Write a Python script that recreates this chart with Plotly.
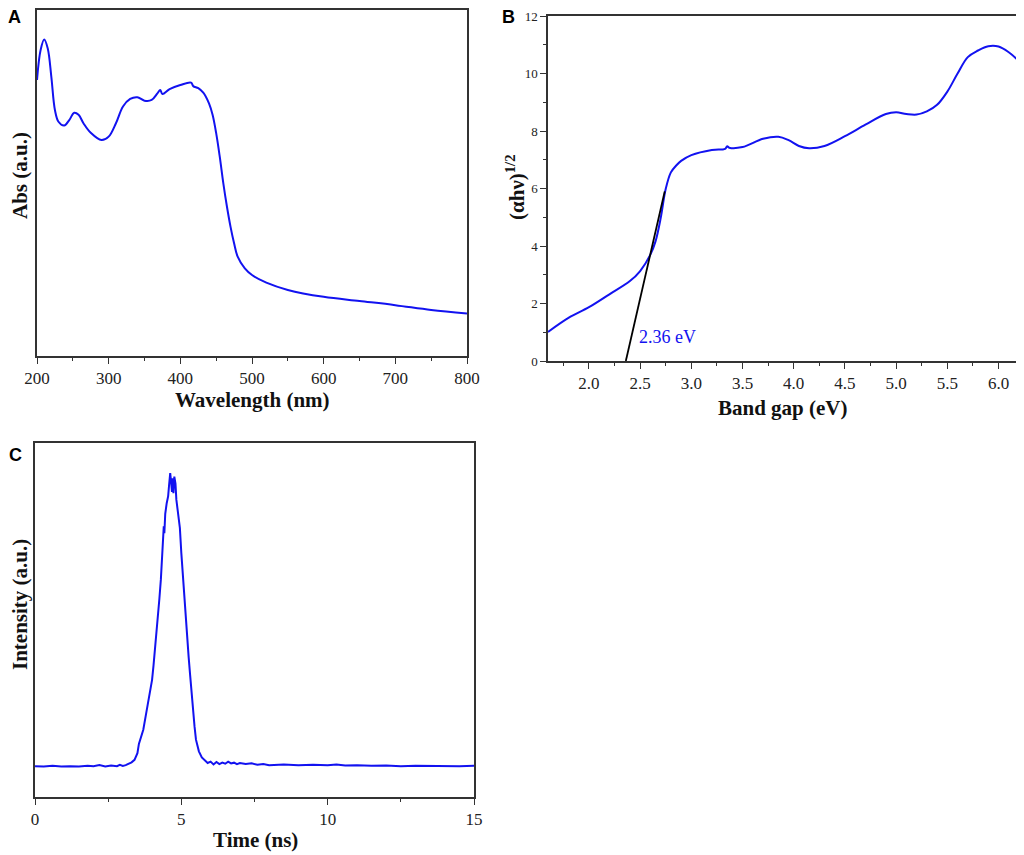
import plotly.graph_objects as go

# panel A: UV-vis absorbance
wl = [200, 205, 210, 215, 220, 225, 230, 238, 245, 252, 258, 265, 275, 290, 300,
      310, 320, 330, 340, 350, 360, 368, 372, 375, 385, 400, 415, 418, 425, 432,
      440, 445, 450, 455, 460, 465, 470, 475, 480, 490, 500, 520, 550, 600, 650,
      700, 750, 800]
absorb = [0.798, 0.884, 0.915, 0.889, 0.807, 0.711, 0.677, 0.666, 0.682, 0.703,
          0.697, 0.672, 0.645, 0.624, 0.634, 0.672, 0.721, 0.743, 0.748, 0.738,
          0.740, 0.759, 0.769, 0.757, 0.771, 0.783, 0.790, 0.780, 0.774, 0.761,
          0.730, 0.697, 0.644, 0.576, 0.499, 0.432, 0.374, 0.326, 0.287, 0.253,
          0.234, 0.212, 0.191, 0.171, 0.159, 0.147, 0.133, 0.123]

# panel B: Tauc plot
ev = [1.6, 1.8, 2.0, 2.2, 2.4, 2.5, 2.6, 2.65, 2.7, 2.75, 2.8, 2.85, 2.9, 3.0,
      3.2, 3.33, 3.35, 3.37, 3.5, 3.7, 3.85, 3.95, 4.05, 4.15, 4.3, 4.5, 4.7,
      4.9, 5.0, 5.1, 5.2, 5.3, 5.4, 5.5, 5.6, 5.7, 5.8, 5.9, 6.0, 6.1, 6.2]
tauc = [1.01, 1.50, 1.87, 2.32, 2.78, 3.13, 3.70, 4.16, 4.96, 5.99, 6.56, 6.79,
        6.96, 7.16, 7.34, 7.38, 7.47, 7.42, 7.44, 7.73, 7.80, 7.68, 7.48, 7.40,
        7.48, 7.82, 8.22, 8.59, 8.65, 8.59, 8.57, 8.68, 8.91, 9.37, 10.0, 10.57,
        10.80, 10.95, 10.94, 10.74, 10.43]
fit_x = [2.36, 2.74]
fit_y = [0, 5.9]

# panel C: pulse profile
t_ns = [0.0, 0.3, 0.6, 0.9, 1.2, 1.5, 1.8, 2.0, 2.2, 2.4, 2.6, 2.8, 2.9, 3.0,
        3.1, 3.2, 3.3, 3.4, 3.5, 3.55, 3.6, 3.65, 3.7, 3.8, 3.85, 3.9, 3.95,
        4.0, 4.05, 4.1, 4.15, 4.2, 4.25, 4.3, 4.35, 4.38, 4.4, 4.42, 4.45, 4.5,
        4.55, 4.58, 4.62, 4.65, 4.68, 4.7, 4.73, 4.76, 4.8, 4.83, 4.86, 4.9,
        4.95, 5.0, 5.05, 5.1, 5.15, 5.2, 5.25, 5.3, 5.35, 5.4, 5.45, 5.5, 5.55,
        5.6, 5.7, 5.8, 5.9, 6.0, 6.1, 6.2, 6.3, 6.4, 6.5, 6.6, 6.7, 6.8, 6.9,
        7.0, 7.2, 7.4, 7.6, 7.8, 8.0, 8.5, 9.0, 9.5, 10.0, 10.3, 10.6, 11.0,
        11.5, 12.0, 12.5, 13.0, 13.5, 14.0, 14.5, 15.0]
inten = [0.087, 0.086, 0.088, 0.086, 0.087, 0.086, 0.088, 0.087, 0.090, 0.086,
         0.089, 0.087, 0.091, 0.088, 0.090, 0.094, 0.098, 0.105, 0.124, 0.150,
         0.162, 0.178, 0.190, 0.237, 0.262, 0.284, 0.300, 0.331, 0.372, 0.416,
         0.455, 0.500, 0.560, 0.614, 0.680, 0.740, 0.765, 0.745, 0.800, 0.830,
         0.850, 0.880, 0.915, 0.890, 0.862, 0.900, 0.858, 0.905, 0.885, 0.840,
         0.822, 0.800, 0.760, 0.689, 0.625, 0.557, 0.505, 0.454, 0.395, 0.345,
         0.290, 0.250, 0.200, 0.162, 0.140, 0.129, 0.112, 0.105, 0.096, 0.100,
         0.092, 0.099, 0.093, 0.097, 0.094, 0.100, 0.095, 0.097, 0.093, 0.096,
         0.093, 0.095, 0.091, 0.093, 0.090, 0.092, 0.090, 0.091, 0.090, 0.092,
         0.089, 0.090, 0.088, 0.089, 0.087, 0.088, 0.087, 0.088, 0.087, 0.088]

# page body has an 8px margin, so the figure starts 8px in from the top left
OFF = 8
W, H = 1024 - OFF, 855 - OFF
BLUE = "#1212f0"
SERIF = "Liberation Serif"
AXCOL = "#333333"


def px(x):
    return min(1.0, (x - OFF) / W)


def py(y):
    return max(0.0, 1 - (y - OFF) / H)


fig = go.Figure()
fig.add_trace(go.Scatter(x=wl, y=absorb, mode="lines", line=dict(color=BLUE, width=2),
                         line_shape="spline", xaxis="x", yaxis="y"))
fig.add_trace(go.Scatter(x=ev, y=tauc, mode="lines", line=dict(color=BLUE, width=2),
                         line_shape="spline", xaxis="x2", yaxis="y2"))
fig.add_trace(go.Scatter(x=fit_x, y=fit_y, mode="lines", line=dict(color="black", width=1.8),
                         xaxis="x2", yaxis="y2"))
fig.add_trace(go.Scatter(x=t_ns, y=inten, mode="lines", line=dict(color=BLUE, width=2),
                         xaxis="x3", yaxis="y3"))

axis_base = dict(showline=True, mirror=True, linecolor=AXCOL, linewidth=1.5,
                 showgrid=False, zeroline=False, automargin=False,
                 ticklabeloverflow="allow",
                 tickfont=dict(family=SERIF, size=17, color="#222"))

fig.update_layout(
    width=W, height=H, margin=dict(l=0, r=0, t=0, b=0, pad=0),
    paper_bgcolor="white", plot_bgcolor="white", showlegend=False,
    xaxis=dict(axis_base, domain=[px(37), px(467)], anchor="y", range=[200, 800],
               ticks="outside", ticklen=6, tickcolor=AXCOL, dtick=100,
               minor=dict(ticks="outside", ticklen=3, dtick=50, tickcolor=AXCOL)),
    yaxis=dict(axis_base, domain=[py(356), py(10)], anchor="x", range=[0, 1],
               showticklabels=False, ticks=""),
    xaxis2=dict(axis_base, domain=[px(548), px(1019)], anchor="y2", range=[1.6, 6.2],
                ticks="outside", ticklen=6, tickcolor=AXCOL, tick0=2, dtick=0.5,
                tickformat=".1f",
                minor=dict(ticks="outside", ticklen=3, tick0=1.75, dtick=0.5, tickcolor=AXCOL)),
    yaxis2=dict(axis_base, domain=[py(361), py(16)], anchor="x2", range=[0, 12],
                ticks="outside", ticklen=6, tickcolor=AXCOL, dtick=2,
                tickfont=dict(family=SERIF, size=13, color="#222"),
                minor=dict(ticks="outside", ticklen=3, dtick=1, tickcolor=AXCOL)),
    xaxis3=dict(axis_base, domain=[px(35), px(474)], anchor="y3", range=[0, 15],
                ticks="outside", ticklen=6, tickcolor=AXCOL, dtick=5,
                minor=dict(ticks="outside", ticklen=3, dtick=2.5, tickcolor=AXCOL)),
    yaxis3=dict(axis_base, domain=[py(797), py(443)], anchor="x3", range=[0, 1],
                showticklabels=False, ticks=""),
)

title_font = dict(family=SERIF, size=21, color="#111")
letter_font = dict(family="Liberation Sans", size=18, color="black")
notes = [
    dict(text="<b>Wavelength (nm)</b>", x=px(252), y=py(400), font=title_font),
    dict(text="<b>Abs (a.u.)</b>", x=px(20), y=py(176), font=title_font, textangle=-90),
    dict(text="<b>Band gap (eV)</b>", x=px(783), y=py(408), font=title_font),
    dict(text="<b>(\u03b1h\u03bd)<sup>1/2</sup></b>", x=px(515), y=py(187), font=title_font,
         textangle=-90),
    dict(text="<b>Time (ns)</b>", x=px(255), y=py(840), font=title_font),
    dict(text="<b>Intensity (a.u.)</b>", x=px(20), y=py(605), font=title_font, textangle=-90),
    dict(text="<b>A</b>", x=px(14), y=py(17), font=letter_font),
    dict(text="<b>B</b>", x=px(508), y=py(17), font=letter_font),
    dict(text="<b>C</b>", x=px(15), y=py(455), font=letter_font),
]
for n in notes:
    fig.add_annotation(xref="paper", yref="paper", showarrow=False,
                       xanchor="center", yanchor="middle", **n)

fig.add_annotation(xref="x2", yref="y2", x=2.77, y=0.84, text="2.36 eV", showarrow=False,
                   font=dict(family=SERIF, size=18, color=BLUE))

fig.write_html("out.html")
